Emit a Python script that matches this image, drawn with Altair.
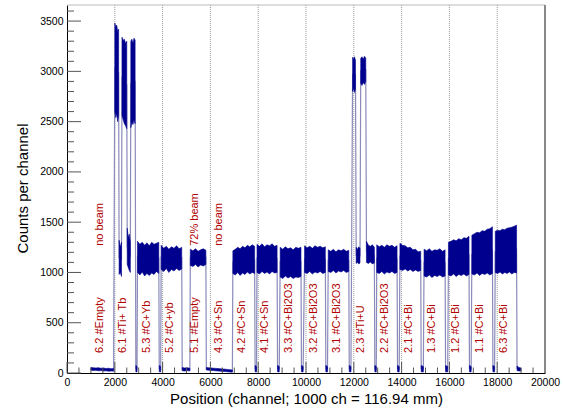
import altair as alt
import numpy as np
import pandas as pd

FONT = "Liberation Sans"
NAVY = "#00008f"
TRACE = "#8a8abb"
RED = "#b00000"

# ---- histogram envelope readings (channel range, lower / upper envelope) ----
lo_62 = [28, 25, 27, 22, 24, 20, 22, 18, 20, 17]
hi_62 = [55, 52, 50, 53, 47, 49, 45, 47, 43, 45]

lo_61a = [2600, 2540, 2580, 2500, 2560]
hi_61a = [3480, 3440, 3460, 3400, 3420]
lo_61b = [980, 1000, 960]
hi_61b = [1320, 1250, 1300]
lo_61c = [2560, 2520, 2480, 2460, 2430]
hi_61c = [3340, 3310, 3320, 3280, 3300]
lo_61d = [1080, 1050, 1020, 1000]
hi_61d = [1440, 1350, 1380, 1300]
lo_61e = [2440, 2500, 2470, 2520, 2480]
hi_61e = [3300, 3320, 3280, 3330, 3310]

lo_53 = [1000, 975, 1005, 965, 990, 970, 995, 980, 1010, 990]
hi_53 = [1310, 1280, 1300, 1270, 1295, 1265, 1300, 1280, 1290, 1300]
lo_52 = [1030, 1010, 1040, 1000, 1030, 1015, 1040, 1020, 1035]
hi_52 = [1270, 1240, 1260, 1230, 1255, 1240, 1265, 1235, 1250]
lo_51 = [1070, 1060, 1080, 1055, 1075, 1065, 1080]
hi_51 = [1230, 1215, 1235, 1210, 1225, 1235, 1220]
lo_42 = [990, 975, 1000, 970, 995, 980, 1005, 985, 1000, 990]
hi_42 = [1215, 1230, 1250, 1235, 1260, 1245, 1270, 1255, 1275, 1260]
lo_41 = [1000, 985, 1010, 990, 1005, 985, 1010, 995, 1000]
hi_41 = [1280, 1260, 1285, 1255, 1275, 1265, 1285, 1260, 1270]
lo_33 = [955, 940, 965, 945, 960, 940, 955, 950, 960]
hi_33 = [1250, 1230, 1255, 1235, 1245, 1225, 1250, 1240, 1250]
lo_32 = [1000, 990, 1010, 985, 1005, 995, 1010, 990, 1000]
hi_32 = [1265, 1245, 1260, 1240, 1265, 1250, 1260, 1245, 1255]
lo_31 = [1010, 1000, 1020, 995, 1015, 1005, 1020, 1000, 1010]
hi_31 = [1225, 1210, 1230, 1205, 1225, 1215, 1230, 1210, 1220]

lo_23a = [2800, 2830, 2790, 2820]
hi_23a = [3140, 3120, 3145, 3110]
lo_23b = [1090, 1100, 1085, 1095]
hi_23b = [1250, 1230, 1255, 1240]
lo_23c = [2880, 2860, 2890, 2870, 2900]
hi_23c = [3130, 3145, 3120, 3150, 3130]
lo_23d = [1100, 1090, 1105, 1085, 1095]
hi_23d = [1310, 1270, 1260, 1275, 1250]

lo_22 = [1000, 990, 1010, 985, 1005, 995, 1010, 990, 1000]
hi_22 = [1275, 1255, 1270, 1250, 1275, 1260, 1270, 1250, 1265]
lo_21 = [1030, 1020, 1035, 1015, 1030, 1010, 1025, 1010, 1020]
hi_21 = [1290, 1270, 1265, 1245, 1250, 1225, 1230, 1205, 1210]
lo_13 = [965, 955, 975, 950, 970, 960, 975, 955, 965]
hi_13 = [1230, 1215, 1235, 1210, 1225, 1220, 1235, 1210, 1225]
lo_12 = [975, 965, 985, 960, 980, 970, 985, 965, 980]
hi_12 = [1300, 1310, 1325, 1315, 1335, 1325, 1345, 1340, 1360]
lo_11 = [985, 975, 995, 970, 990, 980, 995, 975, 990]
hi_11 = [1370, 1385, 1400, 1395, 1415, 1410, 1430, 1435, 1455]
lo_63 = [1000, 990, 1005, 985, 1000, 990, 1005, 985, 1000, 995]
hi_63 = [1410, 1420, 1415, 1430, 1425, 1440, 1445, 1450, 1460, 1470]

lo_gap = [12, 10]
hi_gap = [75, 65]
lo_e51 = [22, 20, 24, 20]
hi_e51 = [55, 50, 52, 48]
lo_43 = [30, 28, 26, 24, 22, 20, 18, 16, 14, 12, 10, 8]
hi_43 = [55, 52, 50, 48, 46, 44, 42, 40, 38, 35, 33, 30]
lo_tail = [25, 20, 20]
hi_tail = [70, 55, 50]

pieces = [
    ("a", 1000, 1950, lo_62, hi_62),
    ("b1", 2000, 2160, lo_61a, hi_61a),
    ("b2", 2180, 2280, lo_61b, hi_61b),
    ("b3", 2300, 2500, lo_61c, hi_61c),
    ("b4", 2520, 2650, lo_61d, hi_61d),
    ("b5", 2670, 2850, lo_61e, hi_61e),
    ("g1", 2880, 2930, lo_gap, hi_gap),
    ("c", 2950, 3840, lo_53, hi_53),
    ("g2", 3860, 3920, lo_gap, hi_gap),
    ("d", 3940, 4800, lo_52, hi_52),
    ("e0", 4820, 5140, lo_e51, hi_e51),
    ("e", 5160, 5810, lo_51, hi_51),
    ("f0", 5830, 6920, lo_43, hi_43),
    ("f", 6940, 7850, lo_42, hi_42),
    ("g3", 7870, 7930, lo_gap, hi_gap),
    ("h", 7950, 8790, lo_41, hi_41),
    ("g4", 8810, 8880, lo_gap, hi_gap),
    ("i", 8920, 9790, lo_33, hi_33),
    ("g5", 9810, 9880, lo_gap, hi_gap),
    ("j", 9940, 10810, lo_32, hi_32),
    ("g6", 10830, 10900, lo_gap, hi_gap),
    ("k", 10930, 11790, lo_31, hi_31),
    ("g7", 11810, 11880, lo_gap, hi_gap),
    ("l1", 11950, 12070, lo_23a, hi_23a),
    ("l2", 12100, 12260, lo_23b, hi_23b),
    ("l3", 12290, 12500, lo_23c, hi_23c),
    ("l4", 12530, 12860, lo_23d, hi_23d),
    ("g8", 12880, 12940, lo_gap, hi_gap),
    ("m", 12960, 13810, lo_22, hi_22),
    ("g9", 13830, 13900, lo_gap, hi_gap),
    ("n", 13930, 14800, lo_21, hi_21),
    ("g10", 14820, 14910, lo_gap, hi_gap),
    ("o", 14940, 15820, lo_13, hi_13),
    ("g11", 15840, 15930, lo_gap, hi_gap),
    ("p", 15960, 16820, lo_12, hi_12),
    ("g12", 16840, 16910, lo_gap, hi_gap),
    ("q", 16940, 17800, lo_11, hi_11),
    ("g13", 17820, 17890, lo_gap, hi_gap),
    ("r", 17920, 18810, lo_63, hi_63),
    ("s", 18830, 18990, lo_tail, hi_tail),
]

rows = []
for name, x0, x1, lo, hi in pieces:
    xs = np.linspace(x0, x1, len(lo))
    for x, l, h in zip(xs, lo, hi):
        rows.append({"piece": name, "x": float(x), "lo": l, "hi": h, "mid": (l + h) / 2})
hist = pd.DataFrame(rows)

# ---- annotations ----
label_x = [1380, 2360, 3340, 4320, 5360, 6340, 7330, 8300, 9300, 10330,
           11310, 12290, 13290, 14300, 15290, 16290, 17300, 18290]
label_text = ["6.2 #Empty", "6.1 #Ti+ Tb", "5.3 #C+Yb", "5.2 #C+yb", "5.1 #Empty",
              "4.3 #C+Sn", "4.2 #C+Sn", "4.1 #C+Sn", "3.3 #C+Bi2O3", "3.2 #C+Bi2O3",
              "3.1 #C+Bi2O3", "2.3 #Ti+U", "2.2 #C+Bi2O3", "2.1 #C+Bi", "1.3 #C+Bi",
              "1.2 #C+Bi", "1.1 #C+Bi", "6.3 #C+Bi"]
labels = pd.DataFrame({"x": label_x, "y": 200, "t": label_text})

beam_x = [1380, 5360, 6340]
beam_text = ["no beam", "72% beam", "no beam"]
beams = pd.DataFrame({"x": beam_x, "y": 1265, "t": beam_text})

grid_x = [2000, 4000, 6000, 8000, 10000, 12000, 14000, 16000, 18000]
grid = pd.DataFrame({"x": grid_x})

x_major = list(range(0, 20001, 2000))
x_minor = [v for v in range(0, 20001, 500) if v % 2000]
y_major = list(range(0, 3501, 500))
y_minor = [v for v in range(0, 3601, 100) if v % 500]

W, H = 478, 368
xscale = alt.Scale(domain=[0, 20000], nice=False, zero=False)
yscale = alt.Scale(domain=[0, 3660], nice=False, zero=False)

xax = alt.Axis(values=x_major, ticks=False, grid=False, domain=True, domainColor="#000000",
               domainWidth=1, labelFont=FONT, labelFontSize=10.5, labelColor="#000000",
               labelPadding=4, labelFlush=False, labelOverlap=False, format="d",
               title="Position (channel; 1000 ch = 116.94 mm)", titleFont=FONT,
               titleFontSize=15, titleFontWeight="normal", titleColor="#000000",
               titleX=239, titleY=25, titleBaseline="middle", titleAlign="center")
yax = alt.Axis(values=y_major, ticks=False, grid=False, domain=True, domainColor="#000000",
               domainWidth=1, labelFont=FONT, labelFontSize=10.5, labelColor="#000000",
               labelPadding=4, labelFlush=False, labelOverlap=False, format="d",
               title="Counts per channel", titleFont=FONT, titleFontSize=15,
               titleFontWeight="normal", titleColor="#000000", titleAngle=270,
               titleX=-45, titleY=183, titleBaseline="middle", titleAlign="center")


def X(field="x"):
    return alt.X(f"{field}:Q", scale=xscale, axis=xax)


def Y(field):
    return alt.Y(f"{field}:Q", scale=yscale, axis=yax)


grid_layer = alt.Chart(grid).mark_rule(color="#9a9a9a", strokeDash=[1, 1], strokeWidth=1).encode(
    x=X(), y=alt.value(0), y2=alt.value(H))

trace = alt.Chart(hist).mark_line(color=TRACE, strokeWidth=1.2).encode(
    x=X(), y=Y("mid"), order="x:Q")

bands = alt.Chart(hist).mark_area(color=NAVY, stroke=NAVY, strokeWidth=0.6, opacity=1).encode(
    x=X(), y=Y("lo"), y2="hi:Q", detail="piece:N")

lab = alt.Chart(labels).mark_text(color=RED, font=FONT, fontSize=11, angle=270,
                                  align="left", baseline="middle").encode(
    x=X(), y=Y("y"), text="t:N")
lab2 = alt.Chart(beams).mark_text(color=RED, font=FONT, fontSize=11, angle=270,
                                  align="left", baseline="middle").encode(
    x=X(), y=Y("y"), text="t:N")

xt_major = alt.Chart(pd.DataFrame({"x": x_major})).mark_rule(color="#555555", strokeWidth=1).encode(
    x=X(), y=alt.value(H), y2=alt.value(H - 11))
xt_minor = alt.Chart(pd.DataFrame({"x": x_minor})).mark_rule(color="#555555", strokeWidth=1).encode(
    x=X(), y=alt.value(H), y2=alt.value(H - 5.5))
yt_major = alt.Chart(pd.DataFrame({"y": y_major})).mark_rule(color="#555555", strokeWidth=1).encode(
    y=Y("y"), x=alt.value(0), x2=alt.value(14))
yt_minor = alt.Chart(pd.DataFrame({"y": y_minor})).mark_rule(color="#555555", strokeWidth=1).encode(
    y=Y("y"), x=alt.value(0), x2=alt.value(7))

frame_top = alt.Chart(pd.DataFrame({"y": [3660]})).mark_rule(color="#bbbbbb", strokeWidth=1).encode(
    y=Y("y"), x=alt.value(0), x2=alt.value(W))
frame_right = alt.Chart(pd.DataFrame({"x": [20000]})).mark_rule(color="#888888", strokeWidth=2).encode(
    x=X(), y=alt.value(0), y2=alt.value(H))

chart = alt.layer(
    grid_layer, trace, bands, lab, lab2, xt_major, xt_minor, yt_major, yt_minor,
    frame_top, frame_right
).properties(
    width=W, height=H,
    padding={"left": 67, "top": 5, "right": 18, "bottom": 39},
    autosize=alt.AutoSizeParams(type="none"),
    background="white",
).configure_view(stroke=None)

chart.save("out.html", embed_options={"renderer": "svg", "actions": False})
